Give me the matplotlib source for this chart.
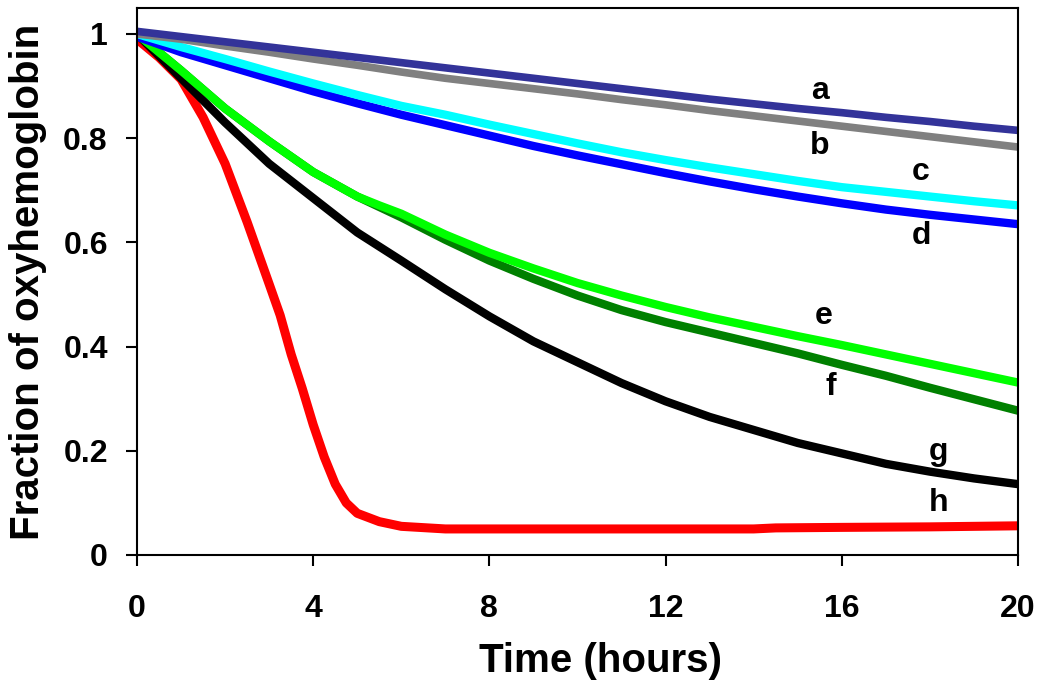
import matplotlib

matplotlib.use("Agg")
import matplotlib.pyplot as plt

plt.rcParams.update(
    {
        "font.family": ["Liberation Sans", "DejaVu Sans"],
        "font.weight": "bold",
    }
)

# ---------------------------------------------------------------------------
# data (time in hours, fraction of oxyhemoglobin)
# ---------------------------------------------------------------------------
hours = [0, 1, 2, 3, 4, 5, 6, 7, 8, 9, 10, 11, 12, 13, 14, 15, 16, 17, 18, 19, 20]

a_vals = [1.005, 0.995, 0.985, 0.975, 0.965, 0.955, 0.945, 0.935, 0.925, 0.915,
          0.905, 0.895, 0.885, 0.875, 0.866, 0.857, 0.849, 0.840, 0.832, 0.823, 0.815]
b_vals = [1.0, 0.990, 0.977, 0.965, 0.952, 0.940, 0.927, 0.915, 0.905, 0.895,
          0.885, 0.874, 0.864, 0.853, 0.843, 0.833, 0.823, 0.813, 0.803, 0.793, 0.783]
c_vals = [1.0, 0.975, 0.952, 0.928, 0.905, 0.883, 0.862, 0.845, 0.826, 0.808,
          0.790, 0.773, 0.758, 0.744, 0.731, 0.718, 0.706, 0.697, 0.688, 0.679, 0.671]
d_vals = [0.995, 0.965, 0.940, 0.915, 0.890, 0.867, 0.845, 0.825, 0.805, 0.785,
          0.767, 0.750, 0.733, 0.717, 0.702, 0.688, 0.675, 0.663, 0.653, 0.644, 0.635]

# e and f share the same path until about 5 h, then split
ef_hours = [0, 1, 2, 3, 4, 5, 5.5, 6, 7, 8, 9, 10, 11, 12, 13, 14, 15, 16, 17, 18, 19, 20]
e_vals = [1.0, 0.930, 0.857, 0.794, 0.735, 0.688, 0.671, 0.655, 0.615, 0.580, 0.550,
          0.522, 0.498, 0.476, 0.456, 0.438, 0.420, 0.403, 0.385, 0.367, 0.349, 0.331]
f_vals = [1.0, 0.930, 0.857, 0.794, 0.735, 0.688, 0.668, 0.648, 0.605, 0.565, 0.530,
          0.498, 0.470, 0.447, 0.427, 0.407, 0.387, 0.365, 0.344, 0.321, 0.299, 0.277]

g_vals = [1.0, 0.915, 0.830, 0.751, 0.685, 0.619, 0.565, 0.510, 0.458, 0.410,
          0.370, 0.330, 0.295, 0.265, 0.240, 0.215, 0.195, 0.175, 0.160, 0.147, 0.136]

h_hours = [0, 0.5, 1, 1.5, 2, 2.5, 3, 3.25, 3.5, 3.75, 4, 4.25, 4.5, 4.75, 5,
           5.5, 6, 7, 8, 10, 12, 14, 14.5, 16, 18, 20]
h_vals = [0.99, 0.955, 0.913, 0.84, 0.751, 0.639, 0.52, 0.46, 0.385, 0.32, 0.25,
          0.188, 0.136, 0.10, 0.08, 0.064, 0.055, 0.05, 0.05, 0.05, 0.05, 0.05,
          0.052, 0.053, 0.054, 0.056]

curve_labels = ["a", "b", "c", "d", "e", "f", "g", "h"]
label_x = [15.5, 15.5, 17.8, 17.8, 15.6, 15.75, 18.2, 18.2]
label_y = [0.89, 0.785, 0.735, 0.612, 0.458, 0.323, 0.198, 0.10]

x_ticks = [0, 4, 8, 12, 16, 20]
y_ticks = [0, 0.2, 0.4, 0.6, 0.8, 1.0]
y_ticklabels = ["0", "0.2", "0.4", "0.6", "0.8", "1"]

# ---------------------------------------------------------------------------
fig = plt.figure(figsize=(10.5, 6.96), dpi=100)
ax = fig.add_axes([0.1305, 0.2026, 0.839, 0.786])

# bottom curves first, so that they sit under the ones drawn later
ax.plot(h_hours, h_vals, color="#FF0000", lw=6.5, solid_capstyle="butt")
ax.plot(hours, g_vals, color="#000000", lw=6.0, solid_capstyle="butt")
ax.plot(ef_hours, f_vals, color="#008000", lw=6.0, solid_capstyle="butt")
ax.plot(ef_hours, e_vals, color="#00FF00", lw=6.0, solid_capstyle="butt")
ax.plot(hours, d_vals, color="#0000FF", lw=6.0, solid_capstyle="butt")
ax.plot(hours, c_vals, color="#00FFFF", lw=6.0, solid_capstyle="butt")
ax.plot(hours, b_vals, color="#808080", lw=5.5, solid_capstyle="butt")
ax.plot(hours, a_vals, color="#333399", lw=5.5, solid_capstyle="butt")

for lab, lx, ly in zip(curve_labels, label_x, label_y):
    ax.text(lx, ly, lab, fontsize=23, fontweight="bold", ha="center", va="center")

ax.set_xlim(0, 20)
ax.set_ylim(0, 1.05)
ax.set_xticks(x_ticks)
ax.set_yticks(y_ticks)
ax.set_yticklabels(y_ticklabels)
ax.tick_params(direction="out", length=8, width=1.5, labelsize=23)
ax.tick_params(axis="y", pad=13)
ax.tick_params(axis="x", pad=20)
for lbl in ax.get_xticklabels() + ax.get_yticklabels():
    lbl.set_fontweight("bold")
for sp in ax.spines.values():
    sp.set_linewidth(1.5)

ax.set_xlabel("Time (hours)", fontsize=29, fontweight="bold")
ax.xaxis.set_label_coords(0.526, -0.194, transform=ax.transAxes)
ax.xaxis.label.set_va("center")
ax.set_ylabel("Fraction of oxyhemoglobin", fontsize=29, fontweight="bold", labelpad=12)

fig.savefig("out.png", dpi=100)
